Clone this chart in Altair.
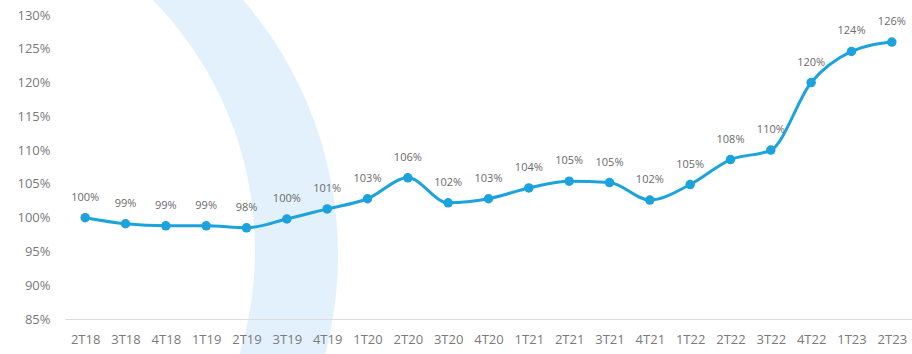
import altair as alt
import pandas as pd

quarters = ["2T18", "3T18", "4T18", "1T19", "2T19", "3T19", "4T19", "1T20", "2T20", "3T20",
            "4T20", "1T21", "2T21", "3T21", "4T21", "1T22", "2T22", "3T22", "4T22", "1T23", "2T23"]
values = [100.0, 99.1, 98.8, 98.8, 98.5, 99.8, 101.3, 102.8, 105.9, 102.2,
          102.8, 104.4, 105.4, 105.2, 102.6, 104.9, 108.6, 110.0, 120.0, 124.6, 126.0]
labels = ["100%", "99%", "99%", "99%", "98%", "100%", "101%", "103%", "106%", "102%",
          "103%", "104%", "105%", "105%", "102%", "105%", "108%", "110%", "120%", "124%", "126%"]
y_ticks = [85, 90, 95, 100, 105, 110, 115, 120, 125, 130]

df = pd.DataFrame({"q": quarters, "v": values, "lab": labels})

LINE = "#1ca2dc"
FONT = "Open Sans"

x_enc = alt.X("q:N", sort=quarters, scale=alt.Scale(type="point", padding=0.5),
              axis=alt.Axis(title=None, labelAngle=0, ticks=False, domain=True,
                            domainColor="#dcdcdc", domainWidth=1, labelPadding=14,
                            labelFontSize=13, labelColor="#7a7a7a", labelFont=FONT,
                            grid=False, zindex=1))
y_enc = alt.Y("v:Q", scale=alt.Scale(domain=[85, 130], nice=False, zero=False),
              axis=alt.Axis(title=None, values=y_ticks, labelExpr="datum.value + '%'",
                            ticks=False, domain=False, grid=False, labelPadding=15,
                            labelFontSize=13, labelColor="#7a7a7a", labelFont=FONT,
                            zindex=1))

one = alt.Data(values=[{"k": 1}])

band_outer = alt.Chart(one).mark_arc(color="#e2f1fb", theta=0, theta2=6.2832, radius=390).encode(
    x=alt.value(-117), y=alt.value(240))
band_inner = alt.Chart(one).mark_arc(color="#ffffff", theta=0, theta2=6.2832, radius=357).encode(
    x=alt.value(-167), y=alt.value(235))

base = alt.Chart(df)
line = base.mark_line(color=LINE, strokeWidth=3, interpolate="monotone").encode(x=x_enc, y=y_enc)
pts = base.mark_circle(color=LINE, size=90, opacity=1).encode(x=x_enc, y=y_enc)
txt = base.mark_text(dy=-20, fontSize=11, color="#6a6a6a", font=FONT).encode(
    x=x_enc, y=y_enc, text="lab:N")

chart = alt.layer(band_outer, band_inner, line, pts, txt).properties(
    width=847, height=304,
    autosize=alt.AutoSizeParams(type="none"),
    padding={"left": 65, "top": 15, "right": 0, "bottom": 35},
    background="white",
).configure_view(stroke=None)

chart.save("out.html", embed_options={"renderer": "svg", "actions": False})
